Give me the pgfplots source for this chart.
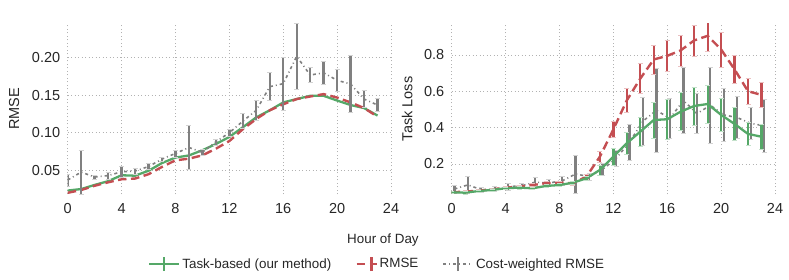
\documentclass[border=0pt]{standalone}
\usepackage{fontspec}
\setmainfont{Liberation Sans}
\usepackage{pgfplots}
\usepackage{pgfplotstable}
\pgfplotsset{compat=1.18}
\definecolor{sgreen}{RGB}{85,168,104}
\definecolor{sred}{RGB}{196,78,82}
\definecolor{sgray}{RGB}{128,128,128}

\pgfplotstableread{
h green red gray grayerr
0 0.023 0.020 0.037 0.008
1 0.025 0.0237 0.0476 0.0296
2 0.0305 0.0294 0.041 0.003
3 0.0355 0.034 0.043 0.005
4 0.0434 0.038 0.048 0.007
5 0.0428 0.039 0.049 0.004
6 0.0494 0.0448 0.055 0.004
7 0.0597 0.0545 0.065 0.003
8 0.067 0.0633 0.0725 0.0045
9 0.0698 0.0655 0.0804 0.0296
10 0.0768 0.070 0.074 0.004
11 0.085 0.0788 0.088 0.004
12 0.0945 0.089 0.100 0.0044
13 0.1074 0.1047 0.1155 0.010
14 0.1206 0.1185 0.130 0.0136
15 0.130 0.130 0.1615 0.0185
16 0.1405 0.138 0.1655 0.0355
17 0.145 0.145 0.202 0.044
18 0.1493 0.1484 0.177 0.010
19 0.1493 0.1516 0.180 0.015
20 0.1430 0.147 0.170 0.014
21 0.137 0.1405 0.165 0.038
22 0.133 0.133 0.145 0.011
23 0.123 0.1215 0.137 0.0088
}\rmsetab

\pgfplotstableread{
h green gerr red rerr hg gray grayerr
0 0.044 0.008 0.044 0.008 0.2 0.062 0.022
1 0.042 0.008 0.048 0.008 1.2 0.085 0.045
2 0.051 0.006 0.053 0.006 2.2 0.058 0.016
3 0.057 0.006 0.060 0.006 3.2 0.062 0.014
4 0.066 0.007 0.070 0.007 4.2 0.075 0.018
5 0.070 0.007 0.075 0.007 5.2 0.080 0.016
6 0.066 0.008 0.084 0.008 6.2 0.100 0.025
7 0.079 0.008 0.094 0.008 7.2 0.095 0.020
8 0.084 0.009 0.097 0.009 8.2 0.107 0.023
9 0.097 0.010 0.094 0.012 9.2 0.145 0.105
10 0.121 0.012 0.130 0.015 10.2 0.130 0.020
11 0.167 0.028 0.240 0.030 11.2 0.170 0.035
12 0.240 0.045 0.390 0.045 12.2 0.230 0.044
13 0.314 0.060 0.550 0.067 13.2 0.320 0.100
14 0.378 0.080 0.670 0.082 14.2 0.436 0.133
15 0.442 0.100 0.775 0.080 15.2 0.495 0.230
16 0.446 0.110 0.795 0.087 16.2 0.450 0.110
17 0.488 0.105 0.825 0.085 17.2 0.550 0.180
18 0.519 0.105 0.880 0.085 18.2 0.477 0.110
19 0.530 0.105 0.905 0.085 19.2 0.523 0.210
20 0.470 0.090 0.830 0.096 20.2 0.470 0.145
21 0.420 0.090 0.720 0.078 21.2 0.455 0.115
22 0.365 0.065 0.600 0.070 22.2 0.423 0.087
23 0.350 0.070 0.580 0.070 23.2 0.410 0.144
}\losstab

\tikzset{
  greenline/.style={color=sgreen, line width=2.3pt, solid},
  redline/.style={color=sred, line width=2.4pt, dash pattern=on 8.5pt off 4.5pt},
  grayline/.style={color=sgray, line width=1.6pt, dash pattern=on 3pt off 3pt on 1pt off 3pt},
}
\pgfplotsset{
  myax/.style={
    scale only axis, width=323.3pt, height=171pt,
    xmin=0, xmax=24, xtick={0,4,...,24},
    axis line style={draw=none},
    major tick length=0pt,
    grid=major,
    major grid style={color=gray!60, line width=0.7pt, dash pattern=on 0.9pt off 2.6pt},
    tick label style={font=\fontsize{14.5}{16}\selectfont, text=black!85},
    label style={font=\fontsize{14.5}{16}\selectfont, text=black!85},
    /pgf/number format/assume math mode=true,
    xticklabel style={yshift=-6pt},
    yticklabel style={xshift=-4pt},
    clip=true,
  },
  ebar/.style={error bars/y dir=both, error bars/y explicit,
    error bars/error bar style={line width=2.3pt, solid, color=#1},
    error bars/error mark options={rotate=90, mark size=2.5pt, line width=0.6pt, color=#1!35}},
  greenleg/.style={legend image code/.code={\draw[greenline] (0pt,0pt) -- (30pt,0pt); \draw[greenline] (15pt,-7pt) -- (15pt,7pt);}},
  redleg/.style={legend image code/.code={\draw[redline] (0pt,0pt) -- (20pt,0pt); \draw[color=sred, solid, line width=2.2pt] (15pt,-7pt) -- (15pt,7pt);}},
  grayleg/.style={legend image code/.code={\draw[grayline] (0pt,0pt) -- (30pt,0pt); \draw[color=sgray, solid, line width=2.2pt] (15pt,-7pt) -- (15pt,7pt);}},
}

\begin{document}
\begin{tikzpicture}
\useasboundingbox (0,0) rectangle (789pt,279pt);
\begin{axis}[myax,
  at={(67.7pt,84.7pt)}, anchor=south west,
  ymin=0.018, ymax=0.246,
  ytick={0.05,0.10,0.15,0.20},
  yticklabel style={/pgf/number format/fixed, /pgf/number format/fixed zerofill, /pgf/number format/precision=2},
  ylabel={RMSE},
  ylabel style={at={(axis description cs:-0.166,0.5)}, anchor=center},
  xlabel={Hour of Day},
  xlabel style={at={(axis description cs:0.975,-0.2677)}, anchor=center, font=\fontsize{13.4}{15}\selectfont},
  legend columns=3,
  legend style={at={(axis description cs:0.957,-0.4076)}, anchor=center, draw=none, fill=none,
    font=\fontsize{13.4}{15}\selectfont, text=black!85,
    /tikz/every even column/.append style={column sep=22pt}},
]
\addplot[greenline, greenleg] table[x=h, y=green] {\rmsetab};
\addlegendentry{Task-based (our method)}
\addplot[redline, redleg] table[x=h, y=red] {\rmsetab};
\addlegendentry{RMSE}
\addplot[grayline, grayleg, ebar=sgray] table[x=h, y=gray, y error=grayerr] {\rmsetab};
\addlegendentry{Cost-weighted RMSE}
\end{axis}

\begin{axis}[myax,
  at={(451.7pt,84.7pt)}, anchor=south west,
  ymin=0.033, ymax=0.974,
  ytick={0.2,0.4,0.6,0.8},
  yticklabel style={/pgf/number format/fixed, /pgf/number format/fixed zerofill, /pgf/number format/precision=1},
  ylabel={Task Loss},
  ylabel style={at={(axis description cs:-0.138,0.5)}, anchor=center},
]
\addplot[grayline, ebar=sgray] table[x=hg, y=gray, y error=grayerr] {\losstab};
\addplot[redline, ebar=sred] table[x=h, y=red, y error=rerr] {\losstab};
\addplot[greenline, ebar=sgreen] table[x=h, y=green, y error=gerr] {\losstab};
\end{axis}
\end{tikzpicture}
\end{document}
